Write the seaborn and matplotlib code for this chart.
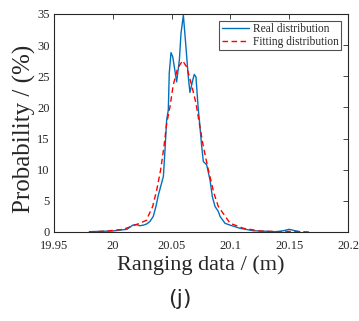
import matplotlib
matplotlib.use("Agg")
import matplotlib.pyplot as plt
import seaborn as sns
import pandas as pd

# Real distribution
real_x = [19.980, 20.000, 20.006, 20.012, 20.017, 20.020, 20.023, 20.026, 20.029,
          20.0316, 20.0344, 20.0367, 20.0387, 20.0407, 20.043, 20.0444, 20.0458,
          20.0472, 20.048, 20.0495, 20.051, 20.0543, 20.0566, 20.058, 20.060,
          20.0622, 20.0642, 20.0656, 20.068, 20.0693, 20.0707, 20.0727, 20.0736,
          20.0756, 20.077, 20.0798, 20.0827, 20.0846, 20.0869, 20.0897, 20.0912,
          20.0954, 20.0997, 20.108, 20.1194, 20.139, 20.145, 20.150, 20.155, 20.159]
real_y = [0.05, 0.16, 0.3, 0.43, 1.1, 1.2, 1.0, 1.1, 1.3,
          1.7, 2.5, 4.1, 5.9, 7.3, 8.9, 13.2, 18.0,
          19.6, 25.5, 28.8, 28.1, 24.1, 27.6, 31.9, 34.8,
          29.7, 24.9, 22.4, 24.4, 25.3, 24.9, 19.6, 18.0,
          13.7, 11.3, 10.8, 8.3, 5.7, 4.1, 3.3, 2.5,
          1.4, 1.1, 0.6, 0.2, 0.05, 0.2, 0.43, 0.2, 0.05]

# Fitting distribution
fit_x = [19.980, 19.995, 20.009, 20.023, 20.0288, 20.030, 20.0339, 20.0373, 20.0407,
         20.0435, 20.0458, 20.0486, 20.0514, 20.0551, 20.0594, 20.0628, 20.067,
         20.0707, 20.0736, 20.077, 20.0812, 20.086, 20.0897, 20.0997, 20.111,
         20.125, 20.140, 20.150, 20.168]
fit_y = [0.0, 0.15, 0.43, 1.4, 1.9, 2.5, 4.1, 6.7, 10.0,
         13.7, 17.4, 20.1, 23.6, 26.3, 27.5, 26.5, 23.6,
         20.7, 17.4, 13.7, 10.0, 6.2, 4.1, 1.4, 0.6,
         0.15, 0.05, 0.1, 0.0]

x_ticks = [19.95, 20.0, 20.05, 20.1, 20.15, 20.2]
x_tick_labels = ["19.95", "20", "20.05", "20.1", "20.15", "20.2"]
y_ticks = [0, 5, 10, 15, 20, 25, 30, 35]

sns.set_theme(style="white")
plt.rcParams['font.family'] = ['Liberation Serif', 'DejaVu Serif']
plt.rcParams['mathtext.fontset'] = 'stix'

fig = plt.figure(figsize=(3.59, 3.21), dpi=100)
ax = fig.add_axes([0.1504, 0.2773, 0.8190, 0.6791])

df_real = pd.DataFrame({"x": real_x, "y": real_y})
df_fit = pd.DataFrame({"x": fit_x, "y": fit_y})

sns.lineplot(data=df_real, x="x", y="y", ax=ax, color="#0072BD", linewidth=1.0,
             label="Real distribution", sort=False)
sns.lineplot(data=df_fit, x="x", y="y", ax=ax, color="#FF0000", linewidth=1.0,
             linestyle=(0, (4, 2.5)), label="Fitting distribution", sort=False)

ax.set_xlim(19.95, 20.2)
ax.set_ylim(0, 35)
ax.set_xticks(x_ticks)
ax.set_xticklabels(x_tick_labels)
ax.set_yticks(y_ticks)
ax.tick_params(direction="in", top=True, right=True, length=3.5, width=0.6,
               labelsize=9, colors="#262626")
ax.tick_params(axis="x", pad=6)
ax.tick_params(axis="y", pad=3)
for s in ax.spines.values():
    s.set_linewidth(0.8)
    s.set_color("#262626")

ax.set_xlabel("Ranging data / (m)", fontsize=16, color="#262626", labelpad=2)
ax.set_ylabel("Probability / (%)", fontsize=18, color="#262626", labelpad=0)
ax.yaxis.set_label_coords(-0.062, 0.472)

leg = ax.legend(loc="upper right", fontsize=8.3, frameon=True, fancybox=False,
                edgecolor="#262626", borderpad=0.2, handlelength=2.4,
                handletextpad=0.3, labelspacing=0.05, borderaxespad=0.6)
leg.get_frame().set_linewidth(0.8)

fig.text(0.5, 0.07, "(j)", ha="center", va="center", fontsize=16,
         family=["DejaVu Sans"], color="#262626")

fig.savefig("out.png", dpi=100)
